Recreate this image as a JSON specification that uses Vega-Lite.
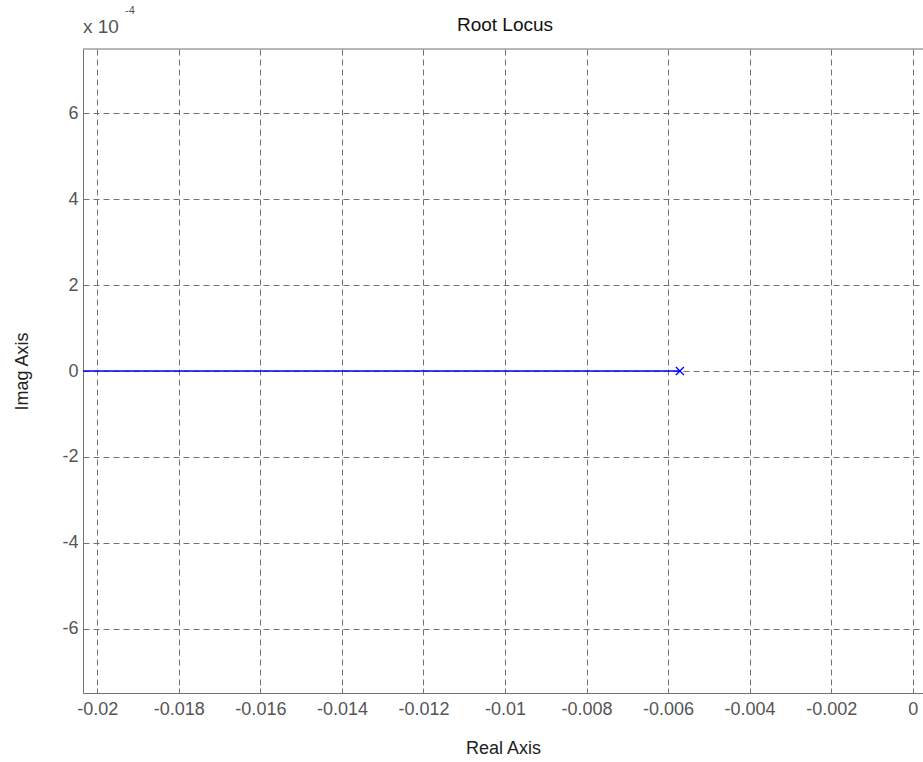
{
  "$schema": "https://vega.github.io/schema/vega-lite/v6.json",
  "width": 840,
  "height": 644,
  "autosize": "none",
  "padding": {"left": 83, "top": 49, "right": 0, "bottom": 69},
  "background": "white",
  "config": {
    "view": {"stroke": null},
    "font": "Liberation Sans",
    "axis": {
      "labelFont": "Liberation Sans",
      "titleFont": "Liberation Sans",
      "labelFontSize": 18,
      "titleFontSize": 18,
      "labelColor": "#555555",
      "titleColor": "#222222",
      "titleFontWeight": "normal",
      "domainColor": "#6f746f",
      "tickColor": "#6f746f",
      "gridColor": "#6f746f",
      "gridDash": [6, 4],
      "gridOpacity": 1,
      "gridWidth": 1,
      "tickSize": -5
    }
  },
  "datasets": {
    "locus": [
      {"re": -0.021, "im": 0},
      {"re": -0.00571, "im": 0}
    ],
    "poles": [
      {"re": -0.00571, "im": 0}
    ]
  },
  "layer": [
    {
      "data": {"name": "locus"},
      "mark": {"type": "line", "color": "#0000ff", "strokeWidth": 1.5, "clip": true},
      "encoding": {
        "x": {
          "field": "re",
          "type": "quantitative",
          "scale": {"domain": [-0.020351, 0.000253], "nice": false, "zero": false},
          "axis": {
            "title": "Real Axis",
            "values": [-0.02, -0.018, -0.016, -0.014, -0.012, -0.01, -0.008, -0.006, -0.004, -0.002, 0],
            "labelExpr": "'' + round(datum.value * 1000) / 1000",
            "labelPadding": 12,
            "grid": true,
            "titleBaseline": "alphabetic",
            "titleY": 60
          }
        },
        "y": {
          "field": "im",
          "type": "quantitative",
          "scale": {"domain": [-0.00075, 0.00075], "nice": false, "zero": false},
          "axis": {
            "title": "Imag Axis",
            "values": [-0.0006, -0.0004, -0.0002, 0, 0.0002, 0.0004, 0.0006],
            "labelExpr": "'' + round(datum.value * 10000)",
            "labelPadding": 10,
            "grid": true,
            "titleBaseline": "alphabetic",
            "titleAngle": -90,
            "titleX": -56,
            "titleY": 322
          }
        }
      }
    },
    {
      "data": {"name": "poles"},
      "mark": {"type": "point", "shape": "M-1,-1L1,1M-1,1L1,-1", "filled": false, "color": "#0000ff", "strokeWidth": 1.3, "size": 64, "opacity": 1},
      "encoding": {
        "x": {"field": "re", "type": "quantitative"},
        "y": {"field": "im", "type": "quantitative"}
      }
    },
    {
      "data": {"values": [{}]},
      "mark": {"type": "rule", "color": "#6f746f", "strokeWidth": 1},
      "encoding": {
        "y": {"datum": 0.00075}
      }
    },
    {
      "data": {"values": [{"t": "Root Locus"}]},
      "mark": {"type": "text", "align": "center", "baseline": "alphabetic", "dy": -18, "fontSize": 19, "color": "#111111", "font": "Liberation Sans"},
      "encoding": {
        "x": {"datum": -0.01},
        "y": {"datum": 0.00075},
        "text": {"field": "t"}
      }
    },
    {
      "data": {"values": [{"t": "x 10"}]},
      "mark": {"type": "text", "align": "left", "baseline": "alphabetic", "dy": -16, "fontSize": 19, "color": "#555555", "font": "Liberation Sans"},
      "encoding": {
        "x": {"datum": -0.020351},
        "y": {"datum": 0.00075},
        "text": {"field": "t"}
      }
    },
    {
      "data": {"values": [{"t": "-4"}]},
      "mark": {"type": "text", "align": "left", "baseline": "alphabetic", "dx": 42, "dy": -35, "fontSize": 11, "color": "#555555", "font": "Liberation Sans"},
      "encoding": {
        "x": {"datum": -0.020351},
        "y": {"datum": 0.00075},
        "text": {"field": "t"}
      }
    }
  ]
}
